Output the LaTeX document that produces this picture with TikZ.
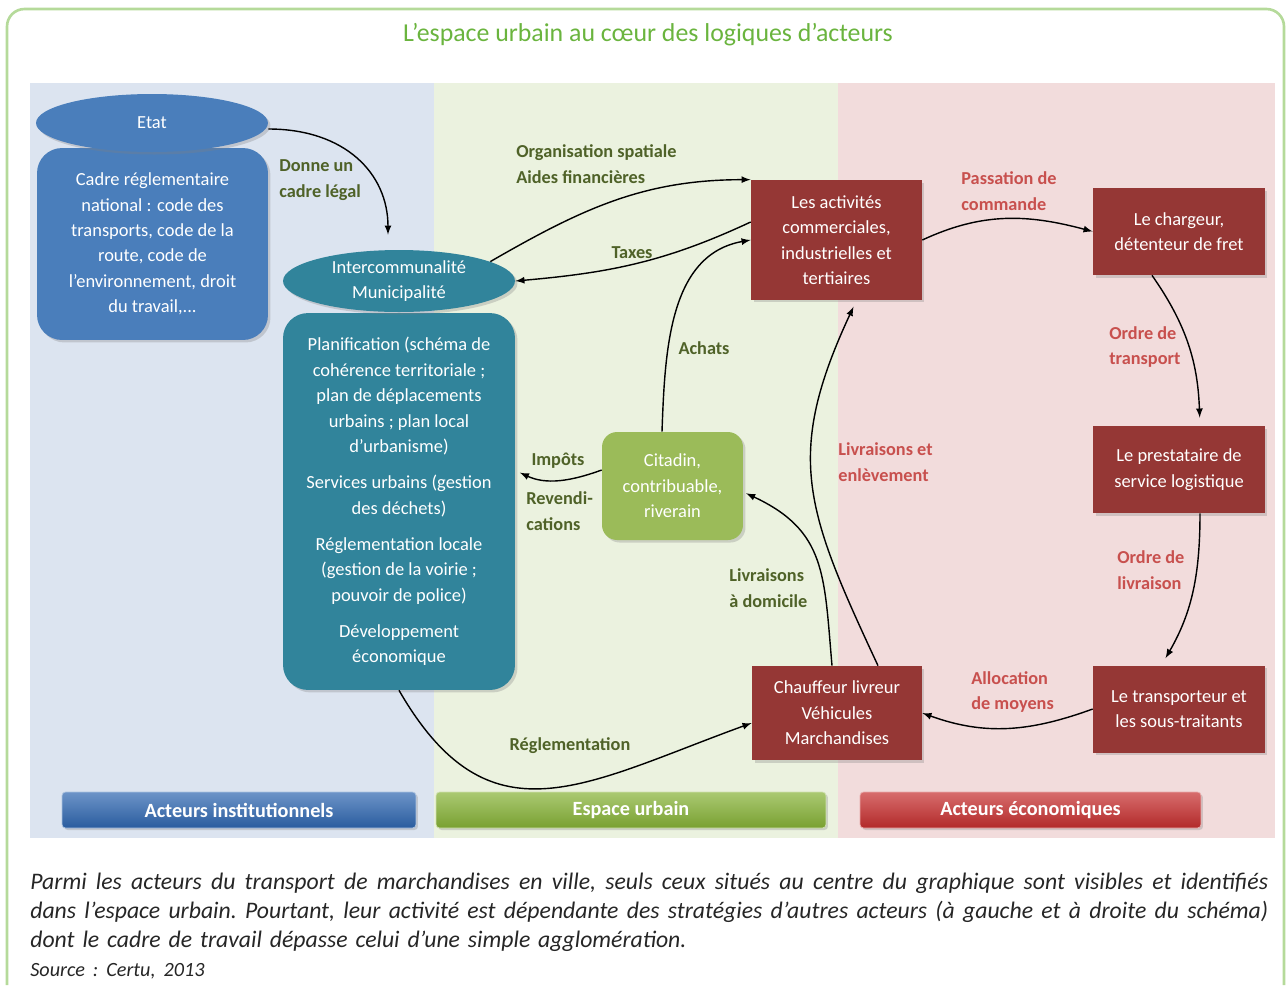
\documentclass[tikz,border=0pt]{standalone}
\usepackage{fontspec}
\setmainfont{Carlito}
\usetikzlibrary{shadows}
\usetikzlibrary{arrows,shapes}
\usetikzlibrary{calc}

\definecolor{instblue}{HTML}{4A7EBB}
\definecolor{interteal}{HTML}{31849B}
\definecolor{ecored}{HTML}{953735}
\definecolor{urbgreen}{HTML}{9BBB59}
\definecolor{lblgreen}{HTML}{4F6228}
\definecolor{lblred}{HTML}{C8504E}
\definecolor{titlegreen}{HTML}{6AB43E}
\definecolor{panelblue}{HTML}{DCE4F0}
\definecolor{panelgreen}{HTML}{EBF2DF}
\definecolor{panelred}{HTML}{F2DCDC}
\definecolor{framegreen}{HTML}{B5DA9A}
\definecolor{barblue}{HTML}{2E66B0}
\definecolor{bargreen}{HTML}{86B236}
\definecolor{barred}{HTML}{C62E2E}

\tikzstyle{box}=[rectangle,text=white,align=center,inner sep=2pt,font=\fontsize{10.5}{14.5}\selectfont,drop shadow={opacity=0.3,shadow xshift=0.05cm,shadow yshift=-0.05cm}]
\tikzstyle{oval}=[box,ellipse,inner sep=0pt]
\tikzstyle{rbox}=[box,rounded corners=0.5cm]
\tikzstyle{ecobox}=[box,fill=ecored,minimum width=3.44cm,minimum height=1.74cm]
\tikzstyle{edge}=[draw,thick,->,>=latex]
\tikzstyle{glabel}=[font=\fontsize{10.4}{14.5}\selectfont\bfseries,text=lblgreen,align=left,inner sep=0pt]
\tikzstyle{rlabel}=[glabel,text=lblred]
\tikzstyle{bar}=[rectangle,rounded corners=2pt,minimum height=0.72cm,text=white,font=\fontsize{11.5}{13}\selectfont\bfseries,drop shadow={opacity=0.3,shadow xshift=0.04cm,shadow yshift=-0.04cm}]

% one caption line stretched to the full width
\newcommand{\fullline}[1]{\makebox[24.76cm][s]{\spaceskip=0.24em plus 1em\relax #1}}

\begin{document}
\begin{tikzpicture}[x=0.02cm,y=-0.02cm]
    \useasboundingbox (0,0) rectangle (1288,985);
    % frame and title
    \draw[framegreen,line width=1.5pt,rounded corners=0.35cm] (7,985) -- (7,9) -- (1284,9) -- (1284,985);
    \node[font=\fontsize{14.7}{16}\selectfont,text=titlegreen] (title) at (648,35) {L’espace urbain au cœur des logiques d’acteurs};

    % the three areas
    \foreach \xa/\xb/\col in {30/434/panelblue, 434/838/panelgreen, 838/1275/panelred}
        \fill[\col] (\xa,83) rectangle (\xb,838);

    % left: institutional actors
    \node[rbox,fill=instblue,minimum width=4.62cm,minimum height=3.84cm] (cadre) at (152.5,244)
        {Cadre réglementaire\\national : code des\\transports, code de la\\route, code de\\l’environnement, droit\\du travail,...};
    \node[oval,fill=instblue,minimum width=4.64cm,minimum height=1.16cm] (etat) at (152,123) {Etat};

    \node[rbox,fill=interteal,minimum width=4.64cm,minimum height=7.54cm] (planif) at (399,501.5)
        {Planification (schéma de\\cohérence territoriale ;\\plan de déplacements\\urbains ; plan local\\d’urbanisme)\\[6pt]
         Services urbains (gestion\\des déchets)\\[6pt]
         Réglementation locale\\(gestion de la voirie ;\\pouvoir de police)\\[6pt]
         Développement\\économique};
    \node[oval,fill=interteal,minimum width=4.64cm,minimum height=1.24cm] (interco) at (399,281) {Intercommunalité\\Municipalité};

    % middle: urban space
    \node[box,fill=ecored,minimum width=3.42cm,minimum height=2.4cm] (activ) at (836.5,240)
        {Les activités\\commerciales,\\industrielles et\\tertiaires};
    \node[box,fill=ecored,minimum width=3.4cm,minimum height=1.88cm] (chauffeur) at (837,713)
        {Chauffeur livreur\\Véhicules\\Marchandises};
    \node[box,rounded corners=0.3cm,fill=urbgreen,minimum width=2.82cm,minimum height=2.16cm] (citadin) at (672.5,486)
        {Citadin,\\contribuable,\\riverain};

    % right: economic actors
    \foreach \name/\pos/\txt in {chargeur/{(1179,231.5)}/{Le chargeur,\\détenteur de fret},
                                 presta/{(1179,469.5)}/{Le prestataire de\\service logistique},
                                 transp/{(1179,709)}/{Le transporteur et\\les sous-traitants}}
        \node[ecobox] (\name) at \pos {\txt};

    % connectors
    \path[edge,shorten >=0.3cm] ([yshift=-0.12cm]etat.east) to[out=0,in=90,looseness=1.15] ([xshift=-0.22cm]interco.north);
    \path[edge] (interco.12) to[out=30,in=180] (activ.north west);
    \path[edge] ([yshift=0.36cm]activ.west) to[out=205,in=5] (interco.east);
    \path[edge] ([xshift=-0.21cm]citadin.north) to[out=88,in=190] (activ.west);
    \path[edge,shorten >=0.1cm] ([yshift=0.32cm]citadin.west) to[out=200,in=-25] ([yshift=0.62cm]planif.east);
    \path[edge,shorten >=0.06cm] ([xshift=-0.1cm]chauffeur.north) to[out=95,in=-25,looseness=1.2] ([yshift=-0.12cm]citadin.east);
    \path[edge,shorten >=0.14cm] ([xshift=0.82cm]chauffeur.north) to[out=115,in=245,looseness=1.2] ([xshift=0.4cm]activ.south);
    \path[edge] (planif.south) to[out=-60,in=200,looseness=1.3] ([yshift=-0.2cm]chauffeur.west);
    \path[edge] (activ.east) to[out=25,in=165] (chargeur.west);
    \path[edge,shorten >=0.16cm] ([xshift=-0.54cm]chargeur.south) to[out=-55,in=92] ([xshift=0.42cm]presta.north);
    \path[edge,shorten >=0.16cm] ([xshift=0.42cm]presta.south) to[out=-90,in=60] ([xshift=-0.35cm]transp.north);
    \path[edge] (transp.west) to[out=200,in=-20] (chauffeur.east);

    % connector labels
    \foreach \name/\pos/\txt in {lbllegal/{(279,180)}/{Donne un\\cadre légal},
                                 lblorga/{(516,164)}/{Organisation spatiale\\Aides financières},
                                 lblrevend/{(526,511)}/{Revendi-\\cations},
                                 lbllivdom/{(729,588)}/{Livraisons\\à domicile}}
        \node[glabel,anchor=west] (\name) at \pos {\txt};
    \foreach \name/\pos/\txt in {lbltaxes/{(632,253)}/Taxes, lblachats/{(704,348)}/Achats,
                                 lblimpots/{(558,461)}/Impôts, lblregl/{(570,746)}/Réglementation}
        \node[glabel] (\name) at \pos {\txt};
    \foreach \name/\pos/\txt in {lblenlev/{(838,462)}/{Livraisons et\\enlèvement},
                                 lblcommande/{(961,191)}/{Passation de\\commande},
                                 lbltransport/{(1109,347)}/{Ordre de\\transport},
                                 lbllivraison/{(1117,570)}/{Ordre de\\livraison},
                                 lblmoyens/{(971,692)}/{Allocation\\de moyens}}
        \node[rlabel,anchor=west] (\name) at \pos {\txt};

    % legend bars
    \foreach \name/\x/\w/\col/\txt in {barinst/239/7.08cm/barblue/Acteurs institutionnels,
                                       barurb/631/7.8cm/bargreen/Espace urbain,
                                       bareco/1030.5/6.82cm/barred/Acteurs économiques}
        \node[bar,minimum width=\w,top color=\col!70!white,bottom color=\col!90!black,draw=\col!40!white] (\name) at (\x,810) {\txt};

    % caption
    \node[anchor=north west,inner sep=0pt,align=left,text width=24.76cm,text=black!85,
          font=\fontsize{13.5}{16.5}\selectfont\itshape\frenchspacing] (caption) at (30,873)
        {\fullline{Parmi les acteurs du transport de marchandises en ville, seuls ceux situés au centre du graphique sont visibles et identifiés}\\
         \fullline{dans l’espace urbain. Pourtant, leur activité est dépendante des stratégies d’autres acteurs (à gauche et à droite du schéma)}\\
         dont le cadre de travail dépasse celui d’une simple agglomération.\\
         {\fontsize{11.5}{13}\selectfont Source : Certu, 2013}};
\end{tikzpicture}
\end{document}
